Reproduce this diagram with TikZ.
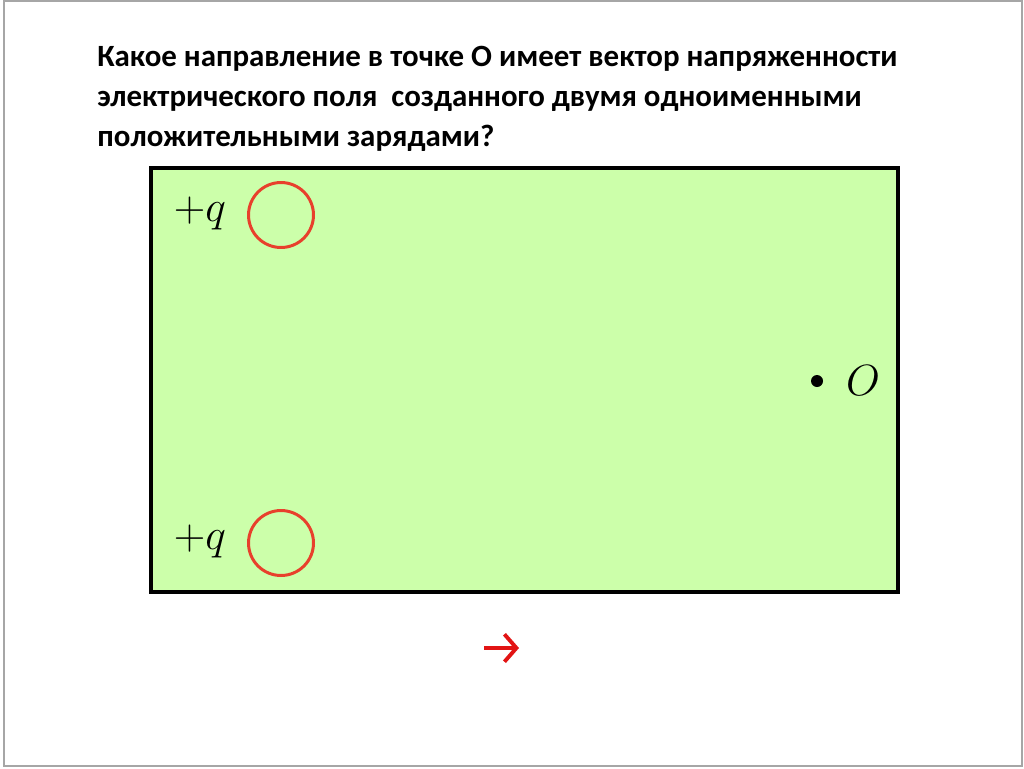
\documentclass[tikz,border=0pt]{standalone}
\usepackage{fontspec}
\setmainfont{Carlito}
\usetikzlibrary{positioning,arrows.meta}
\definecolor{fieldgreen}{RGB}{204,255,170}
\definecolor{chargered}{RGB}{232,64,44}
\definecolor{arrowred}{RGB}{226,20,20}

\begin{document}
\begin{tikzpicture}[x=0.02cm,y=-0.02cm,
  charge/.style={circle,draw=chargered,line width=1.7pt,minimum size=1.3cm,inner sep=0pt},
  qlabel/.style={font=\fontsize{27}{27}\selectfont,inner sep=0pt},
  title/.style={font=\bfseries\fontsize{17.6}{22.7}\selectfont,align=left,inner sep=0pt}]

  % slide frame and bounding box
  \useasboundingbox (0,0) rectangle (1024,768);
  \draw[gray!70,line width=0.6pt] (4,1) rectangle (1022,766);

  \node[title,anchor=north west] (question) at (97,46)
    {Какое направление в точке О имеет вектор напряженности\\
     электрического поля\ \ созданного двумя одноименными\\
     положительными зарядами?};

  % field region
  \draw[fill=fieldgreen,line width=1.8pt] (151,168) rectangle (898,592);

  % charges
  \node[charge] (top) at (281,215) {};
  \node[charge] (bottom) at (281,543) {};
  \node[qlabel] (toplabel) at (200,213) {$+q$};
  \node[qlabel] (bottomlabel) at (200,541) {$+q$};

  % point O
  \node[circle,fill=black,minimum size=0.24cm,inner sep=0pt] (O) at (817,381) {};
  \node[qlabel,right=0.45cm of O] (Olabel) {$O$};

  % answer arrow
  \coordinate (tail) at (484,648);
  \coordinate (head) at (519,648);
  \draw[arrowred,line width=2.2pt,-{Straight Barb[length=2.4mm,width=5.5mm]}] (tail) -- (head);

\end{tikzpicture}
\end{document}
